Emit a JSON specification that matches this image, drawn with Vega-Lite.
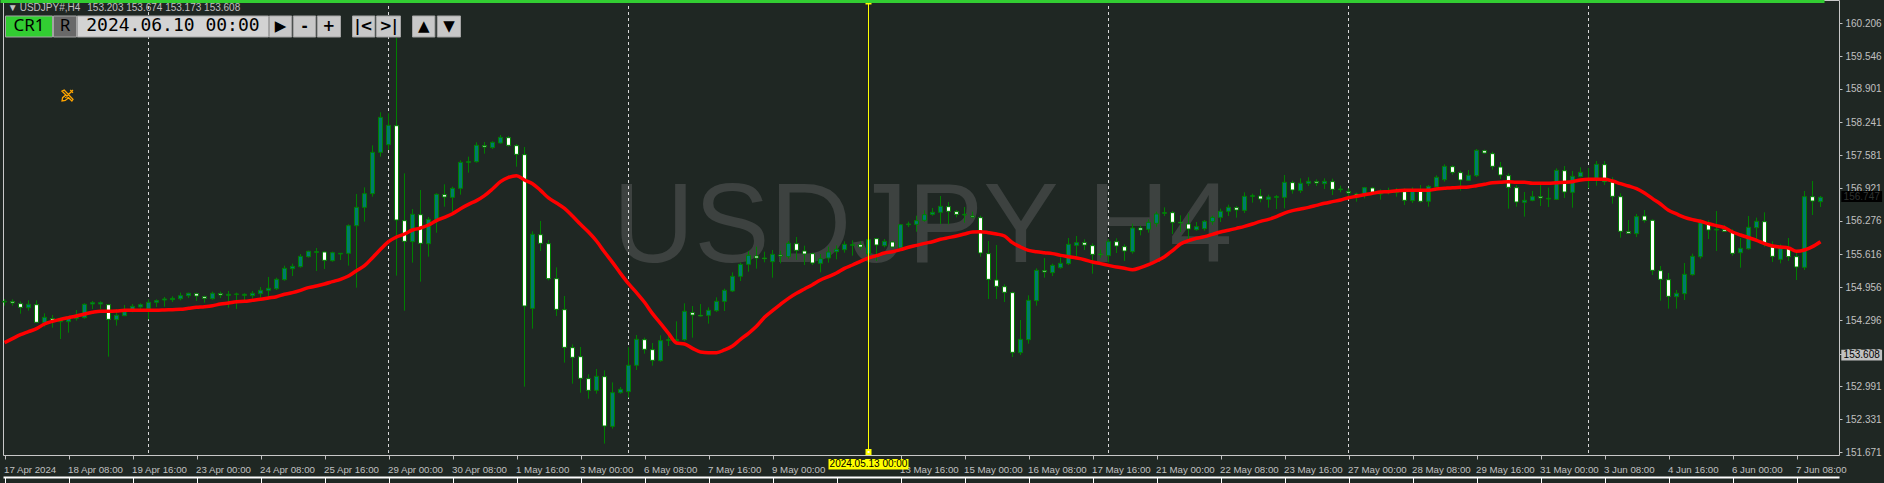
{"$schema":"https://vega.github.io/schema/vega-lite/v6.json","width":1836,"height":455,"autosize":"none","padding":{"left":3,"top":0,"right":45,"bottom":28},"background":"#1f2723","view":{"stroke":"#c8c8c8","fill":"#1f2723"},"config":{"scale":{"continuousPadding":0},"axis":{"labelFont":"Liberation Sans","labelFontSize":10,"labelColor":"#c0c0c0","grid":false,"title":null,"labelOverlap":false}},"resolve":{"axis":{"x":"independent"},"scale":{"fill":"independent","color":"independent"}},
"datasets":{"candles":[
{"bar":0,"o":154.662,"h":154.722,"l":154.589,"c":154.675,"ma":153.853},
{"bar":1,"o":154.669,"h":154.715,"l":154.589,"c":154.642,"ma":153.933},
{"bar":2,"o":154.629,"h":154.675,"l":154.43,"c":154.556,"ma":154.012},
{"bar":3,"o":154.549,"h":154.695,"l":154.49,"c":154.616,"ma":154.072},
{"bar":4,"o":154.609,"h":154.695,"l":154.251,"c":154.258,"ma":154.132},
{"bar":5,"o":154.251,"h":154.437,"l":154.172,"c":154.357,"ma":154.225},
{"bar":6,"o":154.331,"h":154.404,"l":154.152,"c":154.298,"ma":154.278},
{"bar":7,"o":154.271,"h":154.351,"l":153.926,"c":154.337,"ma":154.317},
{"bar":8,"o":154.271,"h":154.384,"l":154.052,"c":154.37,"ma":154.351},
{"bar":9,"o":154.337,"h":154.503,"l":154.291,"c":154.404,"ma":154.384},
{"bar":10,"o":154.351,"h":154.636,"l":154.331,"c":154.616,"ma":154.424},
{"bar":11,"o":154.622,"h":154.682,"l":154.523,"c":154.649,"ma":154.457},
{"bar":12,"o":154.622,"h":154.675,"l":154.523,"c":154.649,"ma":154.477},
{"bar":13,"o":154.609,"h":154.622,"l":153.575,"c":154.317,"ma":154.477},
{"bar":14,"o":154.311,"h":154.516,"l":154.192,"c":154.397,"ma":154.483},
{"bar":15,"o":154.39,"h":154.602,"l":154.384,"c":154.47,"ma":154.497},
{"bar":16,"o":154.497,"h":154.622,"l":154.457,"c":154.576,"ma":154.497},
{"bar":17,"o":154.563,"h":154.636,"l":154.523,"c":154.609,"ma":154.497},
{"bar":18,"o":154.523,"h":154.715,"l":154.317,"c":154.656,"ma":154.497},
{"bar":19,"o":154.656,"h":154.715,"l":154.563,"c":154.689,"ma":154.497},
{"bar":20,"o":154.702,"h":154.762,"l":154.569,"c":154.722,"ma":154.503},
{"bar":21,"o":154.709,"h":154.775,"l":154.662,"c":154.735,"ma":154.51},
{"bar":22,"o":154.728,"h":154.848,"l":154.695,"c":154.788,"ma":154.516},
{"bar":23,"o":154.788,"h":154.848,"l":154.742,"c":154.835,"ma":154.536},
{"bar":24,"o":154.828,"h":154.848,"l":154.682,"c":154.782,"ma":154.556},
{"bar":25,"o":154.768,"h":154.788,"l":154.649,"c":154.735,"ma":154.569},
{"bar":26,"o":154.728,"h":154.868,"l":154.709,"c":154.835,"ma":154.589},
{"bar":27,"o":154.828,"h":154.868,"l":154.742,"c":154.801,"ma":154.622},
{"bar":28,"o":154.795,"h":154.881,"l":154.549,"c":154.815,"ma":154.642},
{"bar":29,"o":154.815,"h":154.848,"l":154.523,"c":154.821,"ma":154.669},
{"bar":30,"o":154.795,"h":154.835,"l":154.682,"c":154.815,"ma":154.675},
{"bar":31,"o":154.788,"h":154.881,"l":154.735,"c":154.835,"ma":154.695},
{"bar":32,"o":154.828,"h":154.961,"l":154.748,"c":154.894,"ma":154.715},
{"bar":33,"o":154.894,"h":155.16,"l":154.755,"c":154.934,"ma":154.742},
{"bar":34,"o":154.927,"h":155.146,"l":154.901,"c":155.113,"ma":154.768},
{"bar":35,"o":155.106,"h":155.385,"l":155.086,"c":155.332,"ma":154.815},
{"bar":36,"o":155.325,"h":155.425,"l":155.179,"c":155.372,"ma":154.848},
{"bar":37,"o":155.365,"h":155.617,"l":155.345,"c":155.57,"ma":154.894},
{"bar":38,"o":155.564,"h":155.683,"l":155.544,"c":155.67,"ma":154.947},
{"bar":39,"o":155.65,"h":155.736,"l":155.279,"c":155.663,"ma":154.98},
{"bar":40,"o":155.657,"h":155.67,"l":155.319,"c":155.491,"ma":155.02},
{"bar":41,"o":155.484,"h":155.663,"l":155.464,"c":155.643,"ma":155.067},
{"bar":42,"o":155.617,"h":155.63,"l":155.498,"c":155.63,"ma":155.113},
{"bar":43,"o":155.63,"h":156.207,"l":155.385,"c":156.18,"ma":155.179},
{"bar":44,"o":156.18,"h":156.81,"l":154.947,"c":156.545,"ma":155.285},
{"bar":45,"o":156.545,"h":156.943,"l":156.26,"c":156.817,"ma":155.385},
{"bar":46,"o":156.817,"h":157.778,"l":156.757,"c":157.639,"ma":155.544},
{"bar":47,"o":157.639,"h":158.435,"l":157.553,"c":158.335,"ma":155.71},
{"bar":48,"o":157.792,"h":158.415,"l":157.686,"c":158.176,"ma":155.862},
{"bar":49,"o":158.169,"h":159.913,"l":155.186,"c":156.293,"ma":155.955},
{"bar":50,"o":156.28,"h":157.221,"l":154.49,"c":155.869,"ma":156.015},
{"bar":51,"o":155.862,"h":156.512,"l":155.445,"c":156.406,"ma":156.094},
{"bar":52,"o":156.399,"h":156.89,"l":155.067,"c":155.829,"ma":156.134},
{"bar":53,"o":155.822,"h":156.353,"l":155.564,"c":156.306,"ma":156.194},
{"bar":54,"o":156.306,"h":156.824,"l":156.041,"c":156.804,"ma":156.28},
{"bar":55,"o":156.797,"h":157.003,"l":156.558,"c":156.751,"ma":156.346},
{"bar":56,"o":156.744,"h":156.956,"l":156.459,"c":156.923,"ma":156.419},
{"bar":57,"o":156.923,"h":157.48,"l":156.797,"c":157.44,"ma":156.519},
{"bar":58,"o":157.44,"h":157.553,"l":157.235,"c":157.453,"ma":156.605},
{"bar":59,"o":157.453,"h":157.838,"l":157.434,"c":157.778,"ma":156.678},
{"bar":60,"o":157.772,"h":157.845,"l":157.613,"c":157.745,"ma":156.777},
{"bar":61,"o":157.732,"h":157.858,"l":157.705,"c":157.838,"ma":156.91},
{"bar":62,"o":157.825,"h":157.984,"l":157.811,"c":157.937,"ma":157.056},
{"bar":63,"o":157.931,"h":157.964,"l":157.752,"c":157.778,"ma":157.142},
{"bar":64,"o":157.772,"h":157.805,"l":157.354,"c":157.599,"ma":157.175},
{"bar":65,"o":157.593,"h":157.745,"l":152.978,"c":154.583,"ma":157.089},
{"bar":66,"o":154.536,"h":156.068,"l":154.132,"c":156.008,"ma":157.016},
{"bar":67,"o":156.001,"h":156.273,"l":155.677,"c":155.829,"ma":156.883},
{"bar":68,"o":155.822,"h":155.895,"l":155.093,"c":155.126,"ma":156.731},
{"bar":69,"o":155.126,"h":155.352,"l":154.384,"c":154.516,"ma":156.631},
{"bar":70,"o":154.51,"h":154.782,"l":153.456,"c":153.76,"ma":156.525},
{"bar":71,"o":153.754,"h":153.82,"l":153.038,"c":153.562,"ma":156.373},
{"bar":72,"o":153.575,"h":153.767,"l":152.859,"c":153.144,"ma":156.207},
{"bar":73,"o":153.137,"h":153.224,"l":152.739,"c":152.905,"ma":156.054},
{"bar":74,"o":152.905,"h":153.33,"l":152.839,"c":153.184,"ma":155.875},
{"bar":75,"o":153.177,"h":153.303,"l":151.845,"c":152.196,"ma":155.657},
{"bar":76,"o":152.189,"h":153.064,"l":152.143,"c":152.859,"ma":155.451},
{"bar":77,"o":152.859,"h":152.972,"l":152.839,"c":152.925,"ma":155.232},
{"bar":78,"o":152.879,"h":153.76,"l":152.759,"c":153.403,"ma":155.027},
{"bar":79,"o":153.403,"h":154.006,"l":153.31,"c":153.92,"ma":154.848},
{"bar":80,"o":153.913,"h":153.953,"l":153.635,"c":153.721,"ma":154.656},
{"bar":81,"o":153.714,"h":153.847,"l":153.396,"c":153.502,"ma":154.43},
{"bar":82,"o":153.495,"h":153.999,"l":153.475,"c":153.893,"ma":154.238},
{"bar":83,"o":153.9,"h":153.999,"l":153.787,"c":153.913,"ma":154.039},
{"bar":84,"o":153.893,"h":154.278,"l":153.84,"c":153.913,"ma":153.847},
{"bar":85,"o":153.913,"h":154.636,"l":153.887,"c":154.477,"ma":153.827},
{"bar":86,"o":154.45,"h":154.583,"l":153.953,"c":154.404,"ma":153.741},
{"bar":87,"o":154.397,"h":154.622,"l":154.37,"c":154.384,"ma":153.668},
{"bar":88,"o":154.397,"h":154.556,"l":154.231,"c":154.497,"ma":153.655},
{"bar":89,"o":154.49,"h":154.755,"l":154.463,"c":154.675,"ma":153.655},
{"bar":90,"o":154.675,"h":154.927,"l":154.483,"c":154.894,"ma":153.708},
{"bar":91,"o":154.881,"h":155.252,"l":154.861,"c":155.173,"ma":153.787},
{"bar":92,"o":155.173,"h":155.445,"l":155.08,"c":155.411,"ma":153.92},
{"bar":93,"o":155.411,"h":155.677,"l":155.266,"c":155.59,"ma":154.039},
{"bar":94,"o":155.577,"h":155.763,"l":155.325,"c":155.537,"ma":154.178},
{"bar":95,"o":155.537,"h":155.663,"l":155.451,"c":155.524,"ma":154.357},
{"bar":96,"o":155.464,"h":155.697,"l":155.146,"c":155.61,"ma":154.49},
{"bar":97,"o":155.597,"h":155.683,"l":155.431,"c":155.577,"ma":154.616},
{"bar":98,"o":155.564,"h":155.875,"l":155.524,"c":155.829,"ma":154.735},
{"bar":99,"o":155.822,"h":155.955,"l":155.498,"c":155.69,"ma":154.835},
{"bar":100,"o":155.677,"h":155.783,"l":155.398,"c":155.617,"ma":154.921},
{"bar":101,"o":155.624,"h":155.643,"l":155.398,"c":155.438,"ma":155.007},
{"bar":102,"o":155.431,"h":155.617,"l":155.252,"c":155.524,"ma":155.1},
{"bar":103,"o":155.537,"h":155.763,"l":155.445,"c":155.657,"ma":155.166},
{"bar":104,"o":155.663,"h":155.789,"l":155.511,"c":155.71,"ma":155.239},
{"bar":105,"o":155.703,"h":155.869,"l":155.643,"c":155.809,"ma":155.332},
{"bar":106,"o":155.789,"h":155.889,"l":155.584,"c":155.803,"ma":155.398},
{"bar":107,"o":155.803,"h":155.869,"l":155.697,"c":155.756,"ma":155.471},
{"bar":108,"o":155.617,"h":155.915,"l":155.564,"c":155.902,"ma":155.537},
{"bar":109,"o":155.922,"h":155.935,"l":155.478,"c":155.796,"ma":155.584},
{"bar":110,"o":155.783,"h":155.915,"l":155.75,"c":155.869,"ma":155.637},
{"bar":111,"o":155.856,"h":155.875,"l":155.73,"c":155.756,"ma":155.663},
{"bar":112,"o":155.736,"h":156.214,"l":155.71,"c":156.2,"ma":155.703},
{"bar":113,"o":156.2,"h":156.26,"l":156.154,"c":156.214,"ma":155.75},
{"bar":114,"o":156.207,"h":156.379,"l":156.061,"c":156.28,"ma":155.789},
{"bar":115,"o":156.287,"h":156.485,"l":156.26,"c":156.399,"ma":155.829},
{"bar":116,"o":156.406,"h":156.532,"l":156.379,"c":156.446,"ma":155.862},
{"bar":117,"o":156.446,"h":156.771,"l":156.214,"c":156.565,"ma":155.909},
{"bar":118,"o":156.558,"h":156.651,"l":156.207,"c":156.466,"ma":155.942},
{"bar":119,"o":156.459,"h":156.492,"l":156.346,"c":156.406,"ma":155.975},
{"bar":120,"o":156.393,"h":156.552,"l":156.24,"c":156.406,"ma":156.015},
{"bar":121,"o":156.373,"h":156.459,"l":156.326,"c":156.353,"ma":156.054},
{"bar":122,"o":156.34,"h":156.379,"l":155.564,"c":155.637,"ma":156.061},
{"bar":123,"o":155.624,"h":155.875,"l":154.722,"c":155.113,"ma":156.041},
{"bar":124,"o":155.1,"h":155.796,"l":154.722,"c":154.974,"ma":156.015},
{"bar":125,"o":154.967,"h":155.014,"l":154.662,"c":154.855,"ma":155.975},
{"bar":126,"o":154.848,"h":154.868,"l":153.568,"c":153.661,"ma":155.842},
{"bar":127,"o":153.655,"h":154.304,"l":153.608,"c":153.92,"ma":155.756},
{"bar":128,"o":153.913,"h":154.795,"l":153.833,"c":154.695,"ma":155.69},
{"bar":129,"o":154.689,"h":155.332,"l":154.589,"c":155.292,"ma":155.663},
{"bar":130,"o":155.285,"h":155.537,"l":155.146,"c":155.259,"ma":155.643},
{"bar":131,"o":155.246,"h":155.425,"l":155.179,"c":155.391,"ma":155.624},
{"bar":132,"o":155.345,"h":155.551,"l":155.325,"c":155.431,"ma":155.59},
{"bar":133,"o":155.425,"h":155.935,"l":155.398,"c":155.809,"ma":155.564},
{"bar":134,"o":155.789,"h":155.975,"l":155.564,"c":155.842,"ma":155.537},
{"bar":135,"o":155.842,"h":155.909,"l":155.697,"c":155.796,"ma":155.504},
{"bar":136,"o":155.783,"h":155.829,"l":155.226,"c":155.61,"ma":155.458},
{"bar":137,"o":155.617,"h":155.703,"l":155.544,"c":155.604,"ma":155.425},
{"bar":138,"o":155.584,"h":155.915,"l":155.451,"c":155.862,"ma":155.391},
{"bar":139,"o":155.862,"h":155.929,"l":155.637,"c":155.776,"ma":155.358},
{"bar":140,"o":155.763,"h":155.809,"l":155.478,"c":155.677,"ma":155.332},
{"bar":141,"o":155.663,"h":156.22,"l":155.624,"c":156.134,"ma":155.305},
{"bar":142,"o":156.134,"h":156.18,"l":155.988,"c":156.094,"ma":155.345},
{"bar":143,"o":156.108,"h":156.306,"l":156.041,"c":156.247,"ma":155.405},
{"bar":144,"o":156.227,"h":156.459,"l":156.161,"c":156.413,"ma":155.478},
{"bar":145,"o":156.426,"h":156.545,"l":156.373,"c":156.439,"ma":155.564},
{"bar":146,"o":156.439,"h":156.472,"l":156.015,"c":156.247,"ma":155.683},
{"bar":147,"o":156.247,"h":156.386,"l":156.054,"c":156.234,"ma":155.816},
{"bar":148,"o":156.214,"h":156.426,"l":155.895,"c":156.114,"ma":155.882},
{"bar":149,"o":156.101,"h":156.253,"l":156.081,"c":156.161,"ma":155.929},
{"bar":150,"o":156.121,"h":156.293,"l":156.081,"c":156.267,"ma":155.962},
{"bar":151,"o":156.26,"h":156.379,"l":156.2,"c":156.346,"ma":156.008},
{"bar":152,"o":156.346,"h":156.519,"l":156.253,"c":156.466,"ma":156.054},
{"bar":153,"o":156.466,"h":156.598,"l":156.373,"c":156.545,"ma":156.088},
{"bar":154,"o":156.538,"h":156.572,"l":156.34,"c":156.492,"ma":156.127},
{"bar":155,"o":156.485,"h":156.844,"l":156.432,"c":156.764,"ma":156.167},
{"bar":156,"o":156.764,"h":156.817,"l":156.638,"c":156.777,"ma":156.214},
{"bar":157,"o":156.771,"h":156.91,"l":156.645,"c":156.711,"ma":156.267},
{"bar":158,"o":156.704,"h":156.797,"l":156.538,"c":156.751,"ma":156.306},
{"bar":159,"o":156.744,"h":156.79,"l":156.512,"c":156.757,"ma":156.36},
{"bar":160,"o":156.744,"h":157.188,"l":156.525,"c":157.042,"ma":156.432},
{"bar":161,"o":157.036,"h":157.076,"l":156.817,"c":156.89,"ma":156.479},
{"bar":162,"o":156.877,"h":157.122,"l":156.83,"c":157.023,"ma":156.512},
{"bar":163,"o":157.023,"h":157.142,"l":156.969,"c":157.062,"ma":156.545},
{"bar":164,"o":157.056,"h":157.102,"l":156.969,"c":157.029,"ma":156.585},
{"bar":165,"o":157.016,"h":157.122,"l":156.91,"c":157.062,"ma":156.625},
{"bar":166,"o":157.056,"h":157.115,"l":156.79,"c":156.903,"ma":156.658},
{"bar":167,"o":156.897,"h":156.976,"l":156.844,"c":156.91,"ma":156.691},
{"bar":168,"o":156.857,"h":156.923,"l":156.737,"c":156.83,"ma":156.737},
{"bar":169,"o":156.81,"h":156.837,"l":156.658,"c":156.79,"ma":156.764},
{"bar":170,"o":156.817,"h":156.95,"l":156.724,"c":156.936,"ma":156.797},
{"bar":171,"o":156.93,"h":156.95,"l":156.804,"c":156.844,"ma":156.824},
{"bar":172,"o":156.81,"h":156.903,"l":156.698,"c":156.824,"ma":156.85},
{"bar":173,"o":156.837,"h":156.936,"l":156.804,"c":156.87,"ma":156.857},
{"bar":174,"o":156.837,"h":156.93,"l":156.757,"c":156.85,"ma":156.877},
{"bar":175,"o":156.857,"h":156.923,"l":156.592,"c":156.684,"ma":156.883},
{"bar":176,"o":156.678,"h":156.943,"l":156.631,"c":156.877,"ma":156.883},
{"bar":177,"o":156.863,"h":156.989,"l":156.638,"c":156.665,"ma":156.883},
{"bar":178,"o":156.665,"h":156.989,"l":156.558,"c":156.963,"ma":156.883},
{"bar":179,"o":156.95,"h":157.182,"l":156.936,"c":157.142,"ma":156.91},
{"bar":180,"o":157.095,"h":157.4,"l":157.056,"c":157.361,"ma":156.923},
{"bar":181,"o":157.354,"h":157.381,"l":157.195,"c":157.241,"ma":156.936},
{"bar":182,"o":157.235,"h":157.274,"l":156.877,"c":157.089,"ma":156.943},
{"bar":183,"o":157.082,"h":157.288,"l":157.069,"c":157.182,"ma":156.95},
{"bar":184,"o":157.175,"h":157.705,"l":157.148,"c":157.679,"ma":156.976},
{"bar":185,"o":157.672,"h":157.692,"l":157.606,"c":157.626,"ma":157.003},
{"bar":186,"o":157.613,"h":157.652,"l":157.294,"c":157.361,"ma":157.036},
{"bar":187,"o":157.347,"h":157.447,"l":157.109,"c":157.188,"ma":157.042},
{"bar":188,"o":157.175,"h":157.221,"l":156.519,"c":156.943,"ma":157.056},
{"bar":189,"o":156.936,"h":156.989,"l":156.558,"c":156.651,"ma":157.042},
{"bar":190,"o":156.645,"h":156.85,"l":156.36,"c":156.684,"ma":157.042},
{"bar":191,"o":156.684,"h":156.87,"l":156.665,"c":156.757,"ma":157.023},
{"bar":192,"o":156.757,"h":156.989,"l":156.572,"c":156.731,"ma":157.023},
{"bar":193,"o":156.711,"h":156.936,"l":156.552,"c":156.724,"ma":157.023},
{"bar":194,"o":156.704,"h":157.321,"l":156.691,"c":157.281,"ma":157.036},
{"bar":195,"o":157.274,"h":157.367,"l":156.731,"c":156.85,"ma":157.042},
{"bar":196,"o":156.844,"h":157.268,"l":156.538,"c":157.162,"ma":157.056},
{"bar":197,"o":157.155,"h":157.341,"l":157.142,"c":157.241,"ma":157.089},
{"bar":198,"o":157.109,"h":157.327,"l":156.923,"c":157.115,"ma":157.102},
{"bar":199,"o":157.115,"h":157.467,"l":156.976,"c":157.4,"ma":157.102},
{"bar":200,"o":157.394,"h":157.467,"l":156.989,"c":157.056,"ma":157.102},
{"bar":201,"o":157.049,"h":157.142,"l":156.618,"c":156.764,"ma":157.069},
{"bar":202,"o":156.757,"h":156.824,"l":155.942,"c":156.068,"ma":157.016},
{"bar":203,"o":156.061,"h":156.293,"l":156.021,"c":156.028,"ma":156.969},
{"bar":204,"o":156.021,"h":156.413,"l":155.955,"c":156.36,"ma":156.916},
{"bar":205,"o":156.373,"h":156.492,"l":156.24,"c":156.287,"ma":156.83},
{"bar":206,"o":156.287,"h":156.306,"l":155.199,"c":155.292,"ma":156.718},
{"bar":207,"o":155.285,"h":155.378,"l":154.689,"c":155.113,"ma":156.611},
{"bar":208,"o":155.106,"h":155.239,"l":154.53,"c":154.775,"ma":156.485},
{"bar":209,"o":154.768,"h":154.901,"l":154.53,"c":154.835,"ma":156.413},
{"bar":210,"o":154.828,"h":155.438,"l":154.702,"c":155.213,"ma":156.346},
{"bar":211,"o":155.206,"h":155.624,"l":155.186,"c":155.57,"ma":156.3},
{"bar":212,"o":155.564,"h":156.306,"l":155.524,"c":156.24,"ma":156.267},
{"bar":213,"o":156.207,"h":156.287,"l":155.915,"c":156.094,"ma":156.22},
{"bar":214,"o":156.094,"h":156.472,"l":155.677,"c":156.108,"ma":156.18},
{"bar":215,"o":156.101,"h":156.194,"l":156.061,"c":156.068,"ma":156.141},
{"bar":216,"o":156.048,"h":156.108,"l":155.584,"c":155.63,"ma":156.054},
{"bar":217,"o":155.643,"h":155.935,"l":155.345,"c":155.73,"ma":155.995},
{"bar":218,"o":155.723,"h":156.373,"l":155.703,"c":156.147,"ma":155.942},
{"bar":219,"o":156.141,"h":156.34,"l":155.909,"c":156.267,"ma":155.889},
{"bar":220,"o":156.26,"h":156.446,"l":155.763,"c":155.829,"ma":155.822},
{"bar":221,"o":155.756,"h":155.869,"l":155.458,"c":155.57,"ma":155.776},
{"bar":222,"o":155.511,"h":155.809,"l":155.431,"c":155.763,"ma":155.756},
{"bar":223,"o":155.73,"h":155.935,"l":155.478,"c":155.564,"ma":155.736},
{"bar":224,"o":155.564,"h":155.697,"l":155.1,"c":155.358,"ma":155.67},
{"bar":225,"o":155.352,"h":156.87,"l":155.299,"c":156.757,"ma":155.697},
{"bar":226,"o":156.757,"h":157.069,"l":156.393,"c":156.671,"ma":155.763},
{"bar":227,"o":156.658,"h":156.771,"l":156.552,"c":156.744,"ma":155.862}
],
"weeks":[{"bar":18},{"bar":48},{"bar":78},{"bar":138},{"bar":168},{"bar":198}],
"panels":[
{"kind":"active","label":"CR1","bar":0.125,"bar2":6,"top":160.351,"bottom":159.933,"mid":3.06,"p":160.142},
{"kind":"off","label":"R","bar":6.125,"bar2":9,"top":160.351,"bottom":159.933,"mid":7.56,"p":160.142},
{"kind":"field","label":"2024.06.10 00:00","bar":9.1,"bar2":33,"top":160.351,"bottom":159.933,"mid":21.05,"p":160.142},
{"kind":"button","label":"▶","bar":33.1,"bar2":35.9,"top":160.351,"bottom":159.933,"mid":34.5,"p":160.142},
{"kind":"button","label":"-","bar":36.1,"bar2":38.9,"top":160.351,"bottom":159.933,"mid":37.5,"p":160.142},
{"kind":"button","label":"+","bar":39.1,"bar2":42,"top":160.351,"bottom":159.933,"mid":40.55,"p":160.142},
{"kind":"button","label":"|<","bar":43.5,"bar2":46.3,"top":160.351,"bottom":159.933,"mid":44.9,"p":160.142},
{"kind":"button","label":">|","bar":46.5,"bar2":49.5,"top":160.351,"bottom":159.933,"mid":48,"p":160.142},
{"kind":"button","label":"▲","bar":51,"bar2":53.8,"top":160.351,"bottom":159.933,"mid":52.4,"p":160.142},
{"kind":"button","label":"▼","bar":54.1,"bar2":57,"top":160.351,"bottom":159.933,"mid":55.55,"p":160.142}
]},
"encoding":{"x":{"field":"bar","type":"quantitative","axis":null,"scale":{"domain":[-0.1875,229.3125],"nice":false,"zero":false,"padding":0}}},
"layer":[
{"data":{"values":[{"bar":114.75,"p":156.13,"label":"USDJPY H4"}]},"mark":{"type":"text","font":"Liberation Sans","fontSize":113,"color":"#3d4240","baseline":"middle","align":"center"},
"encoding":{"x":{"field":"bar","type":"quantitative","scale":{"domain":[-0.1875,229.3125],"nice":false,"zero":false,"padding":0},"axis":{"orient":"bottom","values":[0,8,16,24,32,40,48,56,64,72,80,88,96,112,120,128,136,144,152,160,168,176,184,192,200,208,216,224],"tickCount":40,"labelFontSize":9.7,"labelOffset":-1,"labelAlign":"left","labelPadding":5,"labelFlush":false,"labelOverlap":false,"tickSize":4,"tickColor":"#c0c0c0","domain":false,"labelExpr":"['17 Apr 2024','18 Apr 08:00','19 Apr 16:00','23 Apr 00:00','24 Apr 08:00','25 Apr 16:00','29 Apr 00:00','30 Apr 08:00','1 May 16:00','3 May 00:00','6 May 08:00','7 May 16:00','9 May 00:00','10 May 08:00','13 May 16:00','15 May 00:00','16 May 08:00','17 May 16:00','21 May 00:00','22 May 08:00','23 May 16:00','27 May 00:00','28 May 08:00','29 May 16:00','31 May 00:00','3 Jun 08:00','4 Jun 16:00','6 Jun 00:00','7 Jun 08:00'][datum.value/8]"}},
"y":{"field":"p","type":"quantitative","scale":{"domain":[151.619,160.669],"nice":false,"zero":false},"axis":{"orient":"right","values":[160.206,159.546,158.901,158.241,157.581,156.921,156.276,155.616,154.956,154.296,153.636,152.991,152.331,151.671],"tickCount":30,"format":".3f","tickSize":3,"tickColor":"#c0c0c0","labelPadding":3,"labelOverlap":false,"labelFlush":false,"domain":false,"grid":false}},"text":{"field":"label"}}},
{"data":{"name":"weeks"},"mark":{"type":"rule","color":"#d8d8d8","strokeWidth":1,"strokeDash":[3,3]},
"encoding":{"x":{"field":"bar","type":"quantitative","axis":{"orient":"bottom","offset":22,"values":[0,8,16,24,32,40,48,56,64,72,80,88,96,104,112,120,128,136,144,152,160,168,176,184,192,200,208,216,224],"tickCount":40,"labels":false,"tickSize":7,"tickColor":"#ffffff","domainColor":"#ffffff","domainWidth":2}}}},
{"data":{"name":"candles"},"mark":{"type":"rule","color":"#008000","strokeWidth":1},"encoding":{"y":{"field":"l","type":"quantitative"},"y2":{"field":"h"}}},
{"data":{"name":"candles"},"mark":{"type":"bar","size":4,"stroke":"#008000","strokeWidth":1},"encoding":{"y":{"field":"o","type":"quantitative"},"y2":{"field":"c"},"fill":{"condition":{"test":"datum.c>=datum.o","value":"#007a6e"},"value":"#ffffff"}}},
{"data":{"name":"candles"},"mark":{"type":"line","color":"#ff0000","strokeWidth":3.5,"interpolate":"monotone"},"encoding":{"y":{"field":"ma","type":"quantitative"}}},
{"data":{"values":[{"bar":108}]},"mark":{"type":"rule","color":"#ffff00","strokeWidth":1},"encoding":{}},
{"data":{"values":[{"bar":108,"p":160.64},{"bar":108,"p":151.68}]},"mark":{"type":"point","shape":"square","filled":true,"fill":"#ffffff","stroke":"#ffff00","size":16,"opacity":1},"encoding":{"y":{"field":"p","type":"quantitative"}}},
{"data":{"values":[{"bar":-0.5,"bar2":227.5,"top":160.669,"bottom":160.61}]},"mark":{"type":"rect","fill":"#32cd32","clip":false},"encoding":{"x2":{"field":"bar2"},"y":{"field":"top","type":"quantitative"},"y2":{"field":"bottom"}}},
{"data":{"values":[{"bar":0.4,"p":160.513,"label":"▼"},{"bar":1.9,"p":160.513,"label":"USDJPY#,H4"},{"bar":10.35,"p":160.513,"label":"153.203 153.674 153.173 153.608"}]},"mark":{"type":"text","font":"Liberation Sans","fontSize":10,"color":"#c0c0c0","align":"left","baseline":"middle"},"encoding":{"y":{"field":"p","type":"quantitative"},"text":{"field":"label"}}},
{"data":{"name":"panels"},"mark":{"type":"rect","stroke":"#a4a4a4","strokeWidth":1},"encoding":{"x2":{"field":"bar2"},"y":{"field":"top","type":"quantitative"},"y2":{"field":"bottom"},"fill":{"field":"kind","type":"nominal","legend":null,"scale":{"domain":["active","off","field","button"],"range":["#32cd32","#696969","#d3d3d3","#c8c8c8"]}}}},
{"data":{"name":"panels"},"transform":[{"filter":"datum.kind=='active'||datum.kind=='off'"}],"mark":{"type":"text","font":"Noto Sans","fontSize":17,"color":"#000000","baseline":"middle","align":"center"},"encoding":{"x":{"field":"mid","type":"quantitative","axis":null,"scale":{"domain":[-0.1875,229.3125],"nice":false,"zero":false,"padding":0}},"y":{"field":"p","type":"quantitative"},"text":{"field":"label"}}},
{"data":{"name":"panels"},"transform":[{"filter":"datum.kind=='field'"}],"mark":{"type":"text","font":"DejaVu Sans Mono","fontSize":18,"color":"#000000","baseline":"middle","align":"center"},"encoding":{"x":{"field":"mid","type":"quantitative","axis":null,"scale":{"domain":[-0.1875,229.3125],"nice":false,"zero":false,"padding":0}},"y":{"field":"p","type":"quantitative"},"text":{"field":"label"}}},
{"data":{"name":"panels"},"transform":[{"filter":"datum.kind=='button'"}],"mark":{"type":"text","font":"DejaVu Sans","fontWeight":"bold","fontSize":15,"color":"#000000","baseline":"middle","align":"center"},"encoding":{"x":{"field":"mid","type":"quantitative","axis":null,"scale":{"domain":[-0.1875,229.3125],"nice":false,"zero":false,"padding":0}},"y":{"field":"p","type":"quantitative"},"text":{"field":"label"}}},
{"data":{"values":[{"bar":7.875,"p":158.769}]},"mark":{"type":"point","shape":"M-1,-0.8L-0.6,-1L1,0.7L0.8,1ZM1,-1L-0.4,0.4M0.5,-1L1,-0.5M-0.3,-0.1L0.2,0.4L-0.4,0.9L-1,1L-0.9,0.4Z","filled":false,"stroke":"#ffa500","strokeWidth":1.3,"size":120,"opacity":1},"encoding":{"y":{"field":"p","type":"quantitative"}}},
{"data":{"values":[{"bar2":103,"bar3":113,"top":151.54,"bottom":151.33}]},"mark":{"type":"rect","fill":"#ffff00"},"encoding":{"x":{"field":"bar2","type":"quantitative","axis":null,"scale":{"domain":[-0.1875,229.3125],"nice":false,"zero":false,"padding":0}},"x2":{"field":"bar3"},"y":{"field":"top","type":"quantitative"},"y2":{"field":"bottom"}}},
{"data":{"values":[{"bar":108,"p":151.435,"label":"2024.05.13 00:00"}]},"mark":{"type":"text","font":"Liberation Sans","fontSize":10,"color":"#000000","baseline":"middle","align":"center"},"encoding":{"y":{"field":"p","type":"quantitative"},"text":{"field":"label"}}},
{"data":{"values":[{"bar":229.6,"bar2":234.7,"top":156.87,"bottom":156.65,"kind":"bid"},{"bar":229.6,"bar2":234.7,"top":153.71,"bottom":153.5,"kind":"last"}]},"mark":{"type":"rect"},"encoding":{"x2":{"field":"bar2"},"y":{"field":"top","type":"quantitative"},"y2":{"field":"bottom"},"fill":{"field":"kind","type":"nominal","legend":null,"scale":{"domain":["bid","last"],"range":["#000000","#c0c0c0"]}}}},
{"data":{"values":[{"bar":232.15,"p":156.757,"label":"156.747","kind":"bid"},{"bar":232.15,"p":153.605,"label":"153.608","kind":"last"}]},"mark":{"type":"text","font":"Liberation Sans","fontSize":10,"baseline":"middle","align":"center"},"encoding":{"y":{"field":"p","type":"quantitative"},"text":{"field":"label"},"color":{"field":"kind","type":"nominal","legend":null,"scale":{"domain":["bid","last"],"range":["#2f3331","#000000"]}}}}
]}
